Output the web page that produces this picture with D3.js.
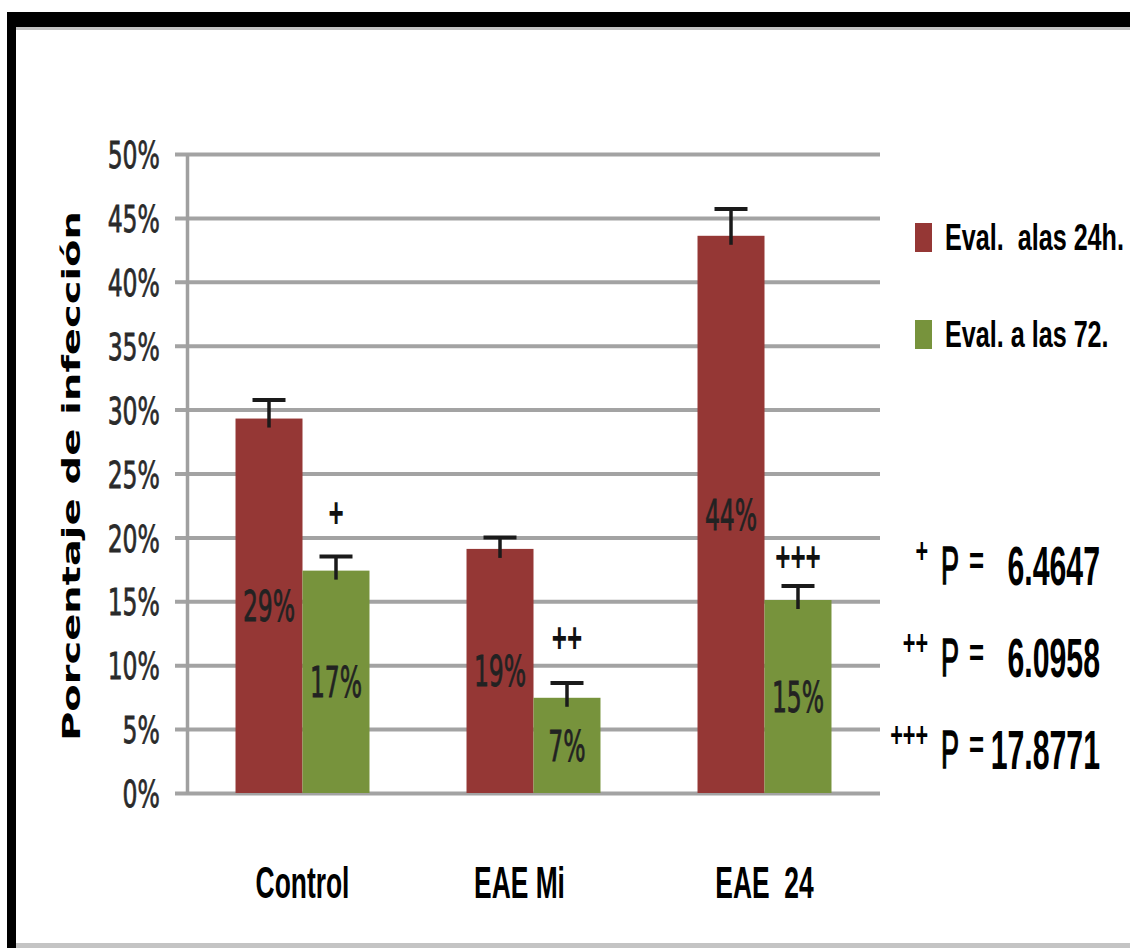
<!DOCTYPE html>
<html><head><meta charset="utf-8">
<script src="https://cdn.jsdelivr.net/npm/d3@7"></script>
<style>body{margin:0;background:#fff} svg{display:block}</style>
</head><body>
<svg id="c" width="1130" height="948"></svg>
<script>
// ---- data ----
const categories = ["Control", "EAE Mi", "EAE  24"];
const seriesNames = ["Eval.  alas 24h.", "Eval. a las 72."];
const values24 = [0.293, 0.191, 0.436];
const values72 = [0.174, 0.0745, 0.151];
const err24 = [0.0145, 0.009, 0.021];
const err72 = [0.011, 0.0115, 0.011];
const sigMarks = ["+", "++", "+++"];
const sigLevel = [0.22, 0.122, 0.185];
const pSymbols = ["+", "++", "+++"];
const pValues = ["6.4647", "6.0958", "17.8771"];
const yTicks = [0, 0.05, 0.1, 0.15, 0.2, 0.25, 0.3, 0.35, 0.4, 0.45, 0.5];
const colors = ["#953735", "#77933c"];

// ---- layout ----
const svg = d3.select("#c");
const axisX = 187, plotRight = 880, y0 = 793, yTop = 154;
const x = d3.scaleBand().domain(categories).range([axisX, plotRight]).paddingInner(0.42).paddingOuter(0.21);
const xs = d3.scaleBand().domain(seriesNames).range([0, x.bandwidth()]).padding(0);
const y = d3.scaleLinear().domain([0, 0.5]).range([y0, yTop]);
const color = d3.scaleOrdinal().domain(seriesNames).range(colors);

// frame
svg.append("rect").attr("x", 7).attr("y", 12).attr("width", 1123).attr("height", 15).attr("fill", "#000");
svg.append("rect").attr("x", 7).attr("y", 27).attr("width", 1123).attr("height", 3).attr("fill", "#888").attr("opacity", 0.5);
svg.append("rect").attr("x", 7).attr("y", 12).attr("width", 9).attr("height", 936).attr("fill", "#000");
svg.append("rect").attr("x", 16).attr("y", 943).attr("width", 1114).attr("height", 5).attr("fill", "#c4c4c4");

// axis + gridlines
const gAxis = svg.append("g").attr("transform", `translate(${axisX},0)`)
  .call(d3.axisLeft(y).tickValues(yTicks).tickFormat(d3.format(".0%"))
    .tickSize(-(plotRight - axisX)).tickSizeOuter(0).tickPadding(27));
gAxis.select(".domain").attr("stroke", "#a0a0a0").attr("stroke-width", 3.5);
gAxis.selectAll(".tick line").attr("x1", -12).attr("stroke", "#a3a3a3").attr("stroke-width", 4);
gAxis.selectAll(".tick text")
  .attr("x", 0).attr("dy", "0.36em")
  .attr("transform", "translate(-27,0) scale(0.62,1)")
  .attr("font-family", "DejaVu Sans").attr("font-size", 38).attr("fill", "#2a2a2a")
  .attr("stroke", "#2a2a2a").attr("stroke-width", 0.8);
gAxis.select(".domain").raise();

// data rows
const rows = categories.map((c, i) => ({
  cat: c,
  vals: [
    {s: seriesNames[0], v: values24[i], e: err24[i]},
    {s: seriesNames[1], v: values72[i], e: err72[i]}
  ]
}));

const groups = svg.append("g").selectAll("g").data(rows).join("g")
  .attr("transform", d => `translate(${x(d.cat)},0)`);

groups.selectAll("rect").data(d => d.vals).join("rect")
  .attr("x", d => xs(d.s)).attr("width", xs.bandwidth())
  .attr("y", d => y(d.v)).attr("height", d => y(0) - y(d.v))
  .attr("fill", d => color(d.s));

// error bars
const eb = groups.selectAll("g.eb").data(d => d.vals).join("g").attr("class", "eb");
eb.append("line")
  .attr("x1", d => xs(d.s) + xs.bandwidth() / 2).attr("x2", d => xs(d.s) + xs.bandwidth() / 2)
  .attr("y1", d => y(d.v + d.e)).attr("y2", d => y(d.v) + 9)
  .attr("stroke", "#1a1a1a").attr("stroke-width", 3.5);
eb.append("line")
  .attr("x1", d => xs(d.s) + xs.bandwidth() / 2 - 16.5).attr("x2", d => xs(d.s) + xs.bandwidth() / 2 + 16.5)
  .attr("y1", d => y(d.v + d.e)).attr("y2", d => y(d.v + d.e))
  .attr("stroke", "#1a1a1a").attr("stroke-width", 4);

// bar value labels
groups.selectAll("text.vl").data(d => d.vals).join("text").attr("class", "vl")
  .attr("transform", d => `translate(${xs(d.s) + xs.bandwidth() / 2},${y(d.v / 2)}) scale(0.56,1)`)
  .attr("dy", "0.36em").attr("text-anchor", "middle")
  .attr("font-family", "DejaVu Sans").attr("font-size", 42).attr("fill", "#222")
  .attr("stroke", "#222").attr("stroke-width", 0.8)
  .text(d => d3.format(".0%")(d.v));

// significance markers
svg.append("g").selectAll("text").data(categories).join("text")
  .attr("transform", (c, i) => `translate(${x(c) + xs(seriesNames[1]) + xs.bandwidth() / 2},${y(sigLevel[i])}) scale(0.62,1)`)
  .attr("dy", "0.35em").attr("text-anchor", "middle")
  .attr("font-family", "Liberation Sans").attr("font-weight", "bold").attr("font-size", 42).attr("fill", "#111")
  .text((c, i) => sigMarks[i]);

// category labels
svg.append("g").selectAll("text").data(categories).join("text")
  .attr("transform", (c, i) => `translate(${x(c) + x.bandwidth() / 2 + (i === 1 ? -14 : 0)},898) scale(0.6,1)`)
  .attr("text-anchor", "middle").attr("xml:space", "preserve").style("white-space", "pre")
  .attr("font-family", "Liberation Sans").attr("font-weight", "bold").attr("font-size", 44).attr("fill", "#000")
  .text(c => c);

// y title
svg.append("text")
  .attr("transform", "translate(80,476) rotate(-90) scale(1.6,1)")
  .attr("text-anchor", "middle")
  .attr("font-family", "DejaVu Sans").attr("font-weight", "bold").attr("font-size", 25).attr("fill", "#000")
  .text("Porcentaje de infección");

// legend
const leg = svg.append("g").selectAll("g").data(seriesNames).join("g")
  .attr("transform", (s, i) => `translate(915,${237 + i * 97})`);
leg.append("rect").attr("x", 0).attr("y", -14).attr("width", 17).attr("height", 29).attr("fill", s => color(s));
leg.append("text")
  .attr("transform", "translate(30,13) scale(0.68,1)")
  .attr("font-family", "Liberation Sans").attr("font-weight", "bold").attr("font-size", 37).attr("fill", "#000")
  .style("white-space", "pre").attr("xml:space", "preserve")
  .text(s => s);

// p-values
const pr = svg.append("g").selectAll("g").data(pValues).join("g")
  .attr("transform", (p, i) => `translate(0,${584 + i * 92})`);
pr.append("text")
  .attr("transform", "translate(928,-21) scale(0.6,1)").attr("text-anchor", "end")
  .attr("font-family", "Liberation Sans").attr("font-weight", "bold").attr("font-size", 36)
  .text((p, i) => pSymbols[i]);
pr.append("text")
  .attr("transform", "translate(941,0) scale(0.5,1)")
  .attr("font-family", "Liberation Sans").attr("font-size", 54)
  .attr("stroke", "#000").attr("stroke-width", 1.5)
  .text("P");
pr.append("text")
  .attr("transform", "translate(969,-10) scale(0.68,1)")
  .attr("font-family", "Liberation Sans").attr("font-weight", "bold").attr("font-size", 38)
  .text("=");
pr.append("text")
  .attr("transform", "translate(1100,1) scale(0.54,1)").attr("text-anchor", "end")
  .attr("font-family", "Liberation Sans").attr("font-weight", "bold").attr("font-size", 56)
  .text(p => p);
</script>
</body></html>
